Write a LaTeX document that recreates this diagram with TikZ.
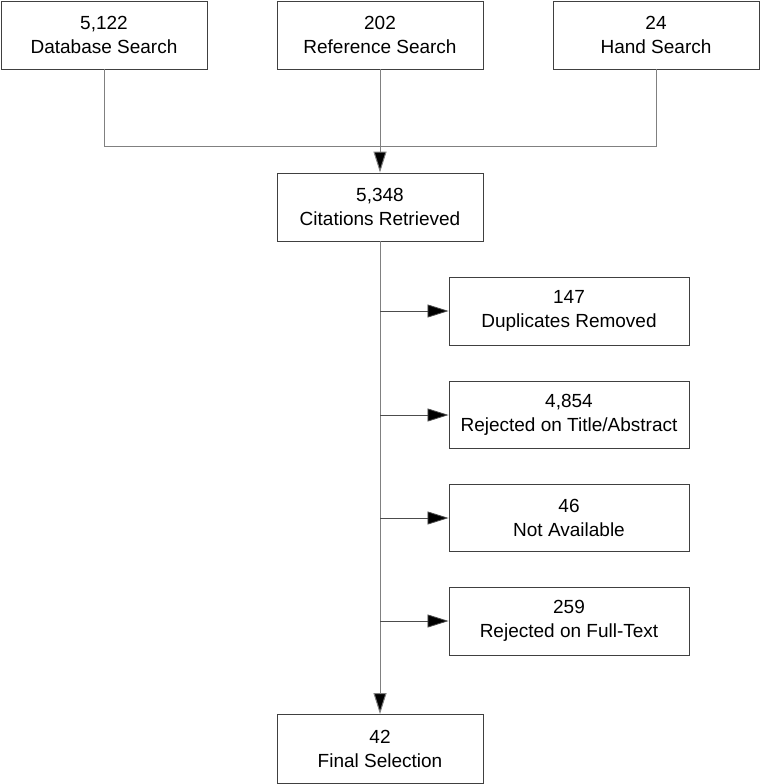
\documentclass[tikz,border=0pt]{standalone}
\usepackage{fontspec}
\setmainfont{Liberation Sans}
\usetikzlibrary{arrows.meta}
\begin{document}
\begin{tikzpicture}[x=1pt,y=-1pt,
  box/.style={draw=black!75, line width=0.9pt, fill=white, inner sep=0pt, align=center,
    font=\fontsize{19}{24}\selectfont},
  conn/.style={draw=black!50, line width=1pt},
  arr/.style={conn, -{Triangle[length=21pt,width=13pt,fill=black]}},
  sarr/.style={draw=black!70, line width=0.8pt, -{Triangle[length=21pt,width=13pt,fill=black]}}]
\useasboundingbox (0,0) rectangle (760,784);
\node[box, minimum width=206pt, minimum height=68pt] (db) at (104,35) {5,122\\Database Search};
\node[box, minimum width=206pt, minimum height=68pt] (ref) at (380,35) {202\\Reference Search};
\node[box, minimum width=206pt, minimum height=68pt] (hand) at (656,35) {24\\Hand Search};
\node[box, minimum width=206pt, minimum height=68pt] (cit) at (380,207) {5,348\\Citations Retrieved};
\node[box, minimum width=240pt, minimum height=68pt] (dup) at (569,311) {147\\Duplicates Removed};
\node[box, minimum width=240pt, minimum height=67pt] (rta) at (569,415) {4,854\\Rejected on Title/Abstract};
\node[box, minimum width=240pt, minimum height=67pt] (na) at (569,518) {46\\Not Available};
\node[box, minimum width=240pt, minimum height=68pt] (rft) at (569,621) {259\\Rejected on Full-Text};
\node[box, minimum width=206pt, minimum height=69pt] (fin) at (380,749) {42\\Final Selection};
\coordinate (j) at (380,146);
\draw[conn] (db.south) |- (j);
\draw[conn] (hand.south) |- (j);
\draw[arr] (ref.south) -- (cit.north);
\draw[arr] (cit.south) -- (fin.north);
\foreach \n in {dup,rta,na,rft}{
  \draw[sarr] (\n.west -| cit.south) -- (\n.west);
}
\end{tikzpicture}
\end{document}
